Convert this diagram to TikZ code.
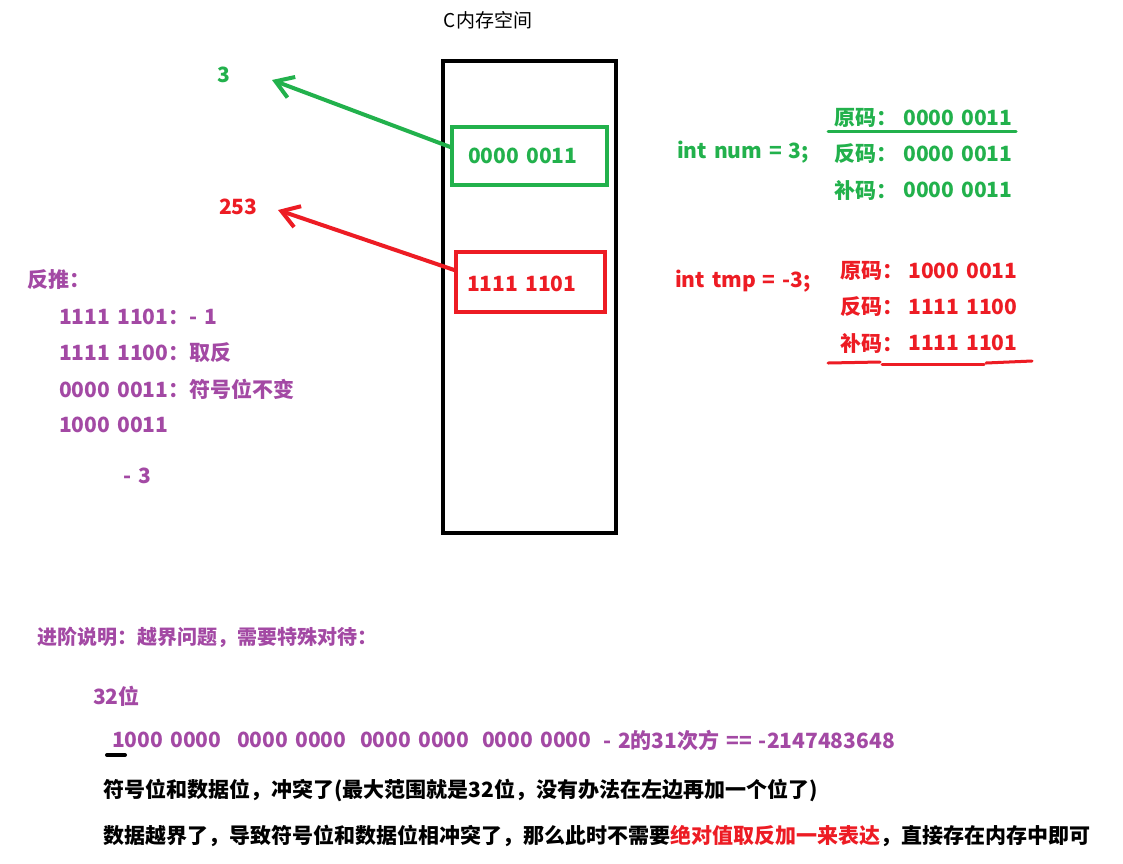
\documentclass[tikz,border=0pt]{standalone}
\usepackage{fontspec}
\setmainfont{Noto Sans CJK SC}
\usepackage{tikz}
\usetikzlibrary{arrows.meta,positioning}
\definecolor{clrGreen}{HTML}{22B14C}
\definecolor{clrRed}{HTML}{ED1C24}
\definecolor{clrPurple}{HTML}{A349A4}
\newcommand\widespace{\spaceskip=0.33em plus 0.1em\relax}
\tikzset{
  txt/.style={inner sep=0pt, anchor=west,
    font=\fontsize{21}{25}\selectfont\bfseries,
    execute at begin node=\widespace},
  ttl/.style={inner sep=0pt, font=\fontsize{19}{23}\selectfont},
  membox/.style={rectangle, draw=black, line width=4pt},
  cellbox/.style={rectangle, line width=3.5pt, inner sep=0pt},
  edge/.style={-{Straight Barb[length=17pt,width=22pt]}, line width=4pt,
    line cap=round},
  uline/.style={line width=3pt, line cap=round},
}
\begin{document}
\begin{tikzpicture}[x=1pt,y=-1pt]
\useasboundingbox[fill=white] (0,0) rectangle (1123,863);

% Speicherbereich in der Mitte
\node[ttl] (title) at (488,20) {C内存空间};
\node[membox, minimum width=173pt, minimum height=472pt] (mem) at (529.5,297) {};
\node[cellbox, draw=clrGreen, minimum width=155pt, minimum height=58pt]
  (cg) at (529.5,156) {};
\node[cellbox, draw=clrRed, minimum width=149pt, minimum height=60pt]
  (cr) at (530.5,282) {};
\node[txt, clrGreen] (cgt) at (468,156) {0000 0011};
\node[txt, clrRed] (crt) at (467,284) {1111 1101};

% ausgelesene Werte
\node[txt, clrGreen] (v3) at (217,75) {3};
\node[txt, clrRed] (v253) at (219,207) {253};
\coordinate (tipG) at (272,80);
\coordinate (tipR) at (278,210);
\draw[edge, clrGreen] ([yshift=9pt]cg.west) -- (tipG);
\draw[edge, clrRed] ([yshift=12pt]cr.west) -- (tipR);

% Rueckrechnung links
\node[txt, clrPurple] (back) at (27,280) {反推：};
\foreach \yy/\tx [count=\i] in {317/{1111 1101：- 1}, 353/{1111 1100：取反},
    389/{0000 0011：符号位不变}, 425/{1000 0011}}
  \node[txt, clrPurple] (back\i) at (59,\yy) {\tx};
\node[txt, clrPurple] (neg3) at (123,476) {- 3};

% int num = 3
\node[txt, clrGreen] (vnum) at (677,152) {int num = 3;};
\foreach \lb/\yy [count=\i] in {原码/118, 反码/154, 补码/190}{
  \node[txt, clrGreen] (gl\i) at (834,\yy) {\lb：};
  \node[txt, clrGreen] (gv\i) at (903,\yy) {0000 0011};
}
\draw[uline, clrGreen] (828,131) -- (1016,131);

% int tmp = -3
\node[txt, clrRed] (vtmp) at (675,281) {int tmp = -3;};
\foreach \lb/\yy/\val [count=\i] in {原码/271/1000 0011, 反码/307/1111 1100,
    补码/343/1111 1101}{
  \node[txt, clrRed] (rl\i) at (840,\yy) {\lb：};
  \node[txt, clrRed] (rv\i) at (908,\yy) {\val};
}
\draw[uline, clrRed] (828,363) -- (880,362);
\draw[uline, clrRed] (882,364) -- (984,364);
\draw[uline, clrRed] (986,363) -- (1032,361);

% Grenzfall 32 Bit
\node[txt, clrPurple, font=\fontsize{20}{24}\selectfont\bfseries] (adv)
  at (37,637) {进阶说明：越界问题，需要特殊对待：};
\node[txt, clrPurple] (b32) at (93,696) {32位};
\foreach \xx/\bits [count=\i] in {112/1000 0000, 237/0000 0000,
    360/0000 0000, 482/0000 0000}
  \node[txt, clrPurple] (byte\i) at (\xx,740) {\bits};
\node[txt, clrPurple] (pow) at (603,740) {- 2的31次方 == -2147483648};
\draw[line width=4pt, line cap=round] (107,755) -- (125,755);

\node[txt] (note1) at (103,790)
  {符号位和数据位，冲突了(最大范围就是32位，没有办法在左边再加一个位了)};
\node[txt] (note2) at (103,836)
  {数据越界了，导致符号位和数据位相冲突了，那么此时不需要\textcolor{clrRed}{绝对值取反加一来表达}，直接存在内存中即可};
\end{tikzpicture}
\end{document}
